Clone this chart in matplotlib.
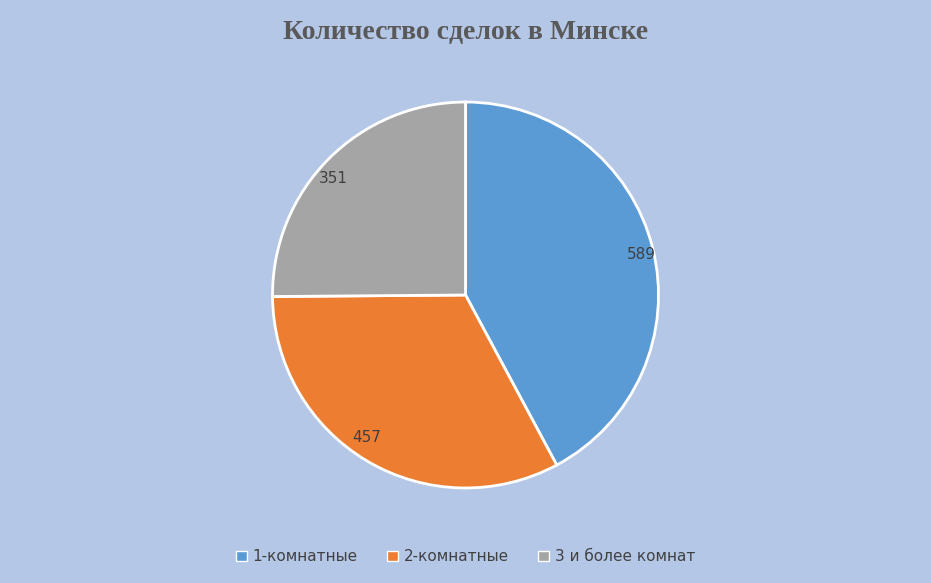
import matplotlib
matplotlib.use("Agg")
import matplotlib.pyplot as plt
from matplotlib.patches import Patch

categories = ["1-комнатные", "2-комнатные", "3 и более комнат"]
values = [589, 457, 351]
colors = ["#5B9BD5", "#ED7D31", "#A5A5A5"]
bg = "#B4C7E7"

fig = plt.figure(figsize=(9.31, 5.83), dpi=100, facecolor=bg)
ax = fig.add_axes([0.5 - 0.2073, 0.494 - 0.331, 0.4146, 0.662])
ax.set_facecolor(bg)
wedges, texts = ax.pie(values, colors=colors, startangle=90, counterclock=False,
                       wedgeprops=dict(edgecolor="white", linewidth=2),
                       labels=[str(v) for v in values], labeldistance=0.86,
                       textprops=dict(fontsize=11, color="#404040", family="DejaVu Sans"))
ax.set_xlim(-1, 1)
ax.set_ylim(-1, 1)
ax.set_aspect("equal")
fig.text(0.5, 0.945, "Количество сделок в Минске", ha="center", va="center",
         fontsize=20, fontweight="bold", color="#595959", family="Liberation Serif")
handles = [Patch(facecolor=c, edgecolor="white") for c in colors]
fig.legend(handles, categories, loc="center", bbox_to_anchor=(0.5, 0.045), ncol=3,
           frameon=False, fontsize=11, labelcolor="#404040", handlelength=0.7,
           handleheight=0.7, columnspacing=1.9, handletextpad=0.4)
fig.savefig("out.png", dpi=100, facecolor=bg)
